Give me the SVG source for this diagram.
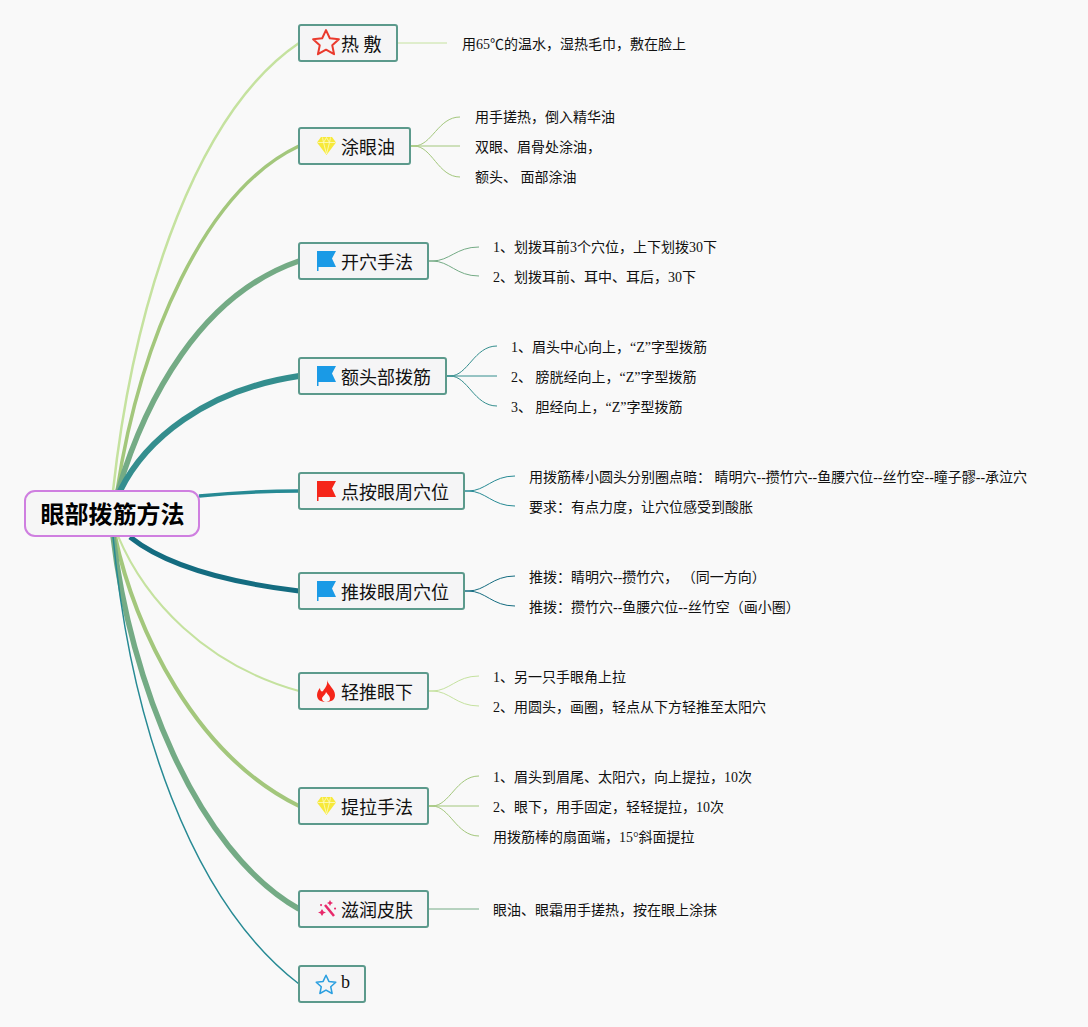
<svg xmlns="http://www.w3.org/2000/svg" width="1088" height="1027" viewBox="0 0 1088 1027">
<style>
text{font-family:"Liberation Serif","Noto Sans CJK SC",sans-serif;fill:#111;white-space:pre}
.box{fill:#f5f5f6;stroke:#5c9a8c;stroke-width:2}
.root{fill:#f6f6f6;stroke:#cf7fe0;stroke-width:2}
.t{font-size:18px}
.c{font-size:14px}
.r{font-size:24px;font-weight:bold;fill:#000}
#connectors path{fill:none;stroke-linecap:butt}
.a{stroke:#c5e29f}.b{stroke:#a3c77c}.d{stroke:#74ab85}.e{stroke:#348e8e}.f{stroke:#278a94}.g{stroke:#146c80}
#connectors .s{stroke-width:1}
</style>
<defs>
<path id="flag" d="M0 0H19L15 7.500L19 16H1.500V20H0Z"/>
<path id="star" d="M0-11.500L3.400-4.200L11.500-3.300L5.600 2.100L7.200 10L0 6L-7.200 10L-5.600 2.100L-11.500-3.300L-3.400-4.200Z" fill="none" stroke-width="1.800" stroke-linejoin="round"/>
<g id="gem">
<path d="M-5.500-9H5.500L9.500-3.500L0 9L-9.500-3.500Z" fill="#f7e93a"/>
<path d="M-9-3.500H9M-4-8.500L-3-3.500L0 8M4-8.500L3-3.500L0 8M0-8.500L-3-3.500M0-8.500L3-3.500" fill="none" stroke="#fdfbc4" stroke-width=".8"/>
</g>
</defs>
<rect width="1088" height="1027" fill="#f9f9f9"/>
<g id="connectors">
<path class="a" stroke-width="2.500" d="M113 491C135 290 200 110 299 43"/>
<path class="b" stroke-width="3.500" d="M117 491C140 340 205 190 299 146"/>
<path class="d" stroke-width="5.500" d="M118 491C145 400 200 295 299 261"/>
<path class="e" stroke-width="6" d="M120 491C145 440 205 390 299 376"/>
<path class="f" stroke-width="3.500" d="M199 496C230 493 265 491 299 491"/>
<path class="g" stroke-width="5" d="M130 537C165 565 225 582 299 591"/>
<path class="a" stroke-width="2" d="M118 536C145 600 205 665 299 691"/>
<path class="b" stroke-width="4" d="M115 536C135 630 195 755 299 806"/>
<path class="d" stroke-width="5.500" d="M113 536C130 680 195 850 299 909"/>
<path class="f" stroke-width="1.500" d="M113 536C130 720 190 900 299 984"/>
<path class="a s" d="M398 43H447"/>
<path class="b s" d="M411 146H414C432 146 438 117 460 117M411 146H460M411 146H414C432 146 438 177 460 177"/>
<path class="d s" d="M429 261H432C450 261 456 247 479 247M429 261H432C450 261 456 276 479 276"/>
<path class="e s" d="M447 376H450C468 376 474 346 497 346M447 376H497M447 376H450C468 376 474 406 497 406"/>
<path class="f s" d="M465 491H468C486 491 492 476 515 476M465 491H468C486 491 492 506 515 506"/>
<path class="g s" d="M465 591H468C486 591 492 576 515 576M465 591H468C486 591 492 606 515 606"/>
<path class="a s" d="M429 691H432C450 691 456 676 479 676M429 691H432C450 691 456 706 479 706"/>
<path class="b s" d="M429 806H432C450 806 456 776 479 776M429 806H479M429 806H432C450 806 456 836 479 836"/>
<path class="d s" d="M429 909H479"/>
</g>
<g id="root"><rect class="root" x="25" y="491" width="174" height="45" rx="10"/><text class="r" x="40.500" y="523">眼部拨筋方法</text></g>
<g id="n1"><rect class="box" x="299" y="25" width="98" height="36" rx="2"/><use href="#star" transform="translate(326 43) scale(1.120)" stroke="#ea3a2d"/><text class="t" x="341" y="51">热 敷</text></g>
<g id="n1c"><text class="c" x="462" y="49">用65℃的温水，湿热毛巾，敷在脸上</text></g>
<g id="n2"><rect class="box" x="299" y="128" width="111" height="36" rx="2"/><use href="#gem" x="326.500" y="146"/><text class="t" x="341" y="154">涂眼油</text></g>
<g id="n2c"><text class="c" x="475" y="122">用手搓热，倒入精华油</text><text class="c" x="475" y="152">双眼、眉骨处涂油，</text><text class="c" x="475" y="182">额头、 面部涂油</text></g>
<g id="n3"><rect class="box" x="299" y="243" width="129" height="36" rx="2"/><use href="#flag" x="317" y="251" fill="#1a9ae6"/><text class="t" x="341" y="269">开穴手法</text></g>
<g id="n3c"><text class="c" x="493" y="252">1、划拨耳前3个穴位，上下划拨30下</text><text class="c" x="493" y="282">2、划拨耳前、耳中、耳后，30下</text></g>
<g id="n4"><rect class="box" x="299" y="358" width="147" height="36" rx="2"/><use href="#flag" x="317" y="366" fill="#1a9ae6"/><text class="t" x="341" y="384">额头部拨筋</text></g>
<g id="n4c"><text class="c" x="511" y="352">1、眉头中心向上，“Z”字型拨筋</text><text class="c" x="511" y="382">2、 膀胱经向上，“Z”字型拨筋</text><text class="c" x="511" y="412">3、 胆经向上，“Z”字型拨筋</text></g>
<g id="n5"><rect class="box" x="299" y="473" width="165" height="36" rx="2"/><use href="#flag" x="317" y="481" fill="#f5261a"/><text class="t" x="341" y="499">点按眼周穴位</text></g>
<g id="n5c"><text class="c" x="529" y="482">用拨筋棒小圆头分别圈点暗： 睛明穴--攒竹穴--鱼腰穴位--丝竹空--瞳子髎--承泣穴</text><text class="c" x="529" y="512">要求：有点力度，让穴位感受到酸胀</text></g>
<g id="n6"><rect class="box" x="299" y="573" width="165" height="36" rx="2"/><use href="#flag" x="317" y="581" fill="#1a9ae6"/><text class="t" x="341" y="599">推拨眼周穴位</text></g>
<g id="n6c"><text class="c" x="529" y="582">推拨：睛明穴--攒竹穴， （同一方向）</text><text class="c" x="529" y="612">推拨：攒竹穴--鱼腰穴位--丝竹空（画小圈）</text></g>
<g id="n7"><rect class="box" x="299" y="673" width="129" height="36" rx="2"/><path d="M327 680C328 685 335 689 335 695C335 700 331 702 326 702C321 702 317 700 317 695C317 692 319 689 320 688C320 691 322 692 323 691C325 688 328 685 327 680Z" fill="#f5261a"/><path d="M326 702C323 702 322 700 322 698C323 696 326 694 326 692C328 695 330 696 330 699C330 701 328 702 326 702Z" fill="#f9f9f9"/><text class="t" x="341" y="699">轻推眼下</text></g>
<g id="n7c"><text class="c" x="493" y="682">1、另一只手眼角上拉</text><text class="c" x="493" y="712">2、用圆头，画圈，轻点从下方轻推至太阳穴</text></g>
<g id="n8"><rect class="box" x="299" y="788" width="129" height="36" rx="2"/><use href="#gem" x="326.500" y="806"/><text class="t" x="341" y="814">提拉手法</text></g>
<g id="n8c"><text class="c" x="493" y="782">1、眉头到眉尾、太阳穴，向上提拉，10次</text><text class="c" x="493" y="812">2、眼下，用手固定，轻轻提拉，10次</text><text class="c" x="493" y="842">用拨筋棒的扇面端，15°斜面提拉</text></g>
<g id="n9"><rect class="box" x="299" y="891" width="129" height="36" rx="2"/><path d="M325 905L334 916" stroke="#e8296b" stroke-width="2.500" fill="none"/><path d="M322 909l1.500 2.500 2.500 1-2.500 1-1.500 2.500-1.500-2.500-2.500-1 2.500-1zM330 900l1 2 2 1-2 1-1 2-1-2-2-1 2-1zM335 907.500a1 1 0 1 0 .1 0zM321 904a1 1 0 1 0 .1 0z" fill="#e8296b"/><text class="t" x="341" y="917">滋润皮肤</text></g>
<g id="n9c"><text class="c" x="493" y="915">眼油、眼霜用手搓热，按在眼上涂抹</text></g>
<g id="n10"><rect class="box" x="299" y="966" width="66" height="36" rx="2"/><use href="#star" transform="translate(326 985) scale(.85)" stroke="#2a9fe0"/><text class="t" x="341" y="988">b</text></g>
</svg>
